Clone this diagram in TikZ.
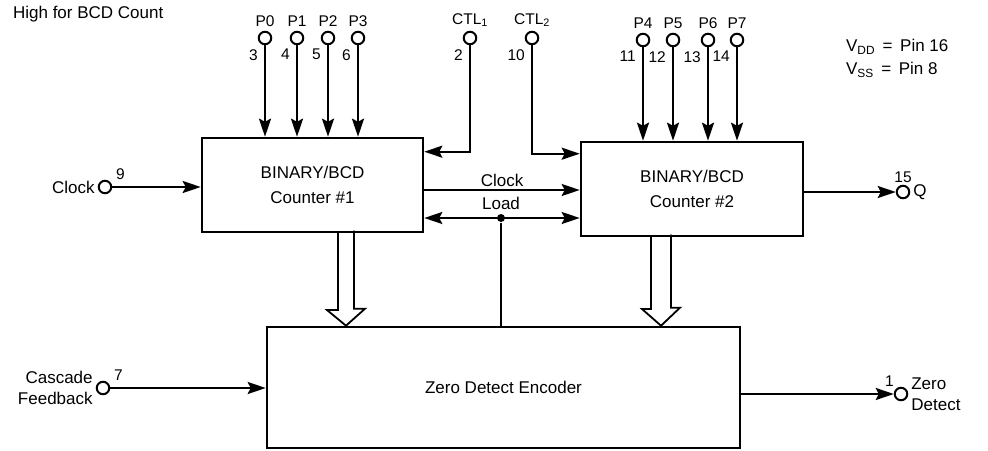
\documentclass[tikz,border=0pt]{standalone}
\usepackage{fontspec}
\setmainfont{Liberation Sans}
\usetikzlibrary{arrows.meta}
\newcommand{\txtfont}{\fontsize{17}{21}\selectfont}
\newcommand{\pinfont}{\fontsize{15.5}{18}\selectfont}
\tikzset{Pin/.style={circle, draw=black, fill=white, inner sep=0pt, minimum size=12.5pt, line width=2pt}}
\tikzset{Block/.style={draw=black, line width=2.6pt, align=center, font=\txtfont}}
\tikzset{Ptxt/.style={font=\txtfont, inner sep=2pt}, Plab/.style={font=\pinfont, inner sep=2pt, yshift=1pt}, Pnum/.style={font=\pinfont, inner sep=1pt}, Pnumd/.style={Pnum, yshift=-4pt}}

\begin{document}
\begin{tikzpicture}[x=1pt, y=-1pt, line width=2.2pt,
        sig/.style={-{Stealth[length=18pt,width=12pt,inset=3pt]}},
        sigboth/.style={{Stealth[length=18pt,width=12pt,inset=3pt]}-{Stealth[length=18pt,width=12pt,inset=3pt]}},
        bus/.style={line width=1.8pt},
        Dot/.style={circle, fill=black, inner sep=0pt, minimum size=8pt}]
        \useasboundingbox (0,0) rectangle (988,450);
        \node[Ptxt, anchor=west] (bcd) at (10,14) {High for BCD Count};
        \node[Ptxt, anchor=west] (vdd) at (843,47) {V\textsubscript{DD} \,=\, Pin 16};
        \node[Ptxt, anchor=west] (vss) at (843,70) {V\textsubscript{SS} \,=\, Pin 8};

        \node[Block, minimum width=221pt, minimum height=94pt] (cnt1) at (312.5,185) {BINARY/BCD\\[4pt]Counter \#1};
        \node[Block, minimum width=222pt, minimum height=94pt] (cnt2) at (692,189) {BINARY/BCD\\[4pt]Counter \#2};
        \node[Block, minimum width=473pt, minimum height=121pt] (zde) at (503.5,387.5) {Zero Detect Encoder};

        \node[Pin, label={[Plab]above:P0}, label={[Pnumd]below left:3}] (p0) at (265,38) {};
        \node[Pin, label={[Plab]above:P1}, label={[Pnumd]below left:4}] (p1) at (297,38) {};
        \node[Pin, label={[Plab]above:P2}, label={[Pnumd]below left:5}] (p2) at (328,38) {};
        \node[Pin, label={[Plab]above:P3}, label={[Pnumd]below left:6}] (p3) at (358,38) {};
        \node[Pin, label={[Plab]above:CTL\textsubscript{1}}, label={[Pnumd]below left:2}] (ctl1) at (470,38) {};
        \node[Pin, label={[Plab]above:CTL\textsubscript{2}}, label={[Pnumd]below left:10}] (ctl2) at (532,38) {};
        \node[Pin, label={[Plab]above:P4}, label={[Pnumd]below left:11}] (p4) at (643,40) {};
        \node[Pin, label={[Plab]above:P5}, label={[Pnumd]below left:12}] (p5) at (673,40) {};
        \node[Pin, label={[Plab]above:P6}, label={[Pnumd]below left:13}] (p6) at (708,40) {};
        \node[Pin, label={[Plab]above:P7}, label={[Pnumd]below left:14}] (p7) at (737,40) {};

        \node[Pin, label={[Ptxt]left:Clock}, label={[Pnum, xshift=4pt]above right:9}] (clk) at (105,187) {};
        \node[Pin, label={[Ptxt]right:Q}, label={[Pnum]above:15}] (q) at (903,192) {};
        \node[Pin, label={[Ptxt, align=right]left:Cascade\\Feedback}, label={[Pnum, xshift=4pt]above right:7}] (cf) at (103,388) {};
        \node[Pin, label={[Ptxt, align=left]right:Zero\\Detect}, label={[Pnum]above left:1}] (zd) at (901,394) {};
        \node[Dot, label={[Ptxt]above:Load}] (ld) at (501,218) {};

        \draw[sig] (p0) -- (p0 |- cnt1.north);
        \draw[sig] (p1) -- (p1 |- cnt1.north);
        \draw[sig] (p2) -- (p2 |- cnt1.north);
        \draw[sig] (p3) -- (p3 |- cnt1.north);
        \draw[sig] (p4) -- (p4 |- cnt2.north);
        \draw[sig] (p5) -- (p5 |- cnt2.north);
        \draw[sig] (p6) -- (p6 |- cnt2.north);
        \draw[sig] (p7) -- (p7 |- cnt2.north);
        \draw[sig] (ctl1) |- ([yshift=-15pt]cnt1.north east);
        \draw[sig] (ctl2) |- ([yshift=-13pt]cnt2.north west);

        \draw[sig] (clk) -- (clk -| cnt1.west);
        \draw[sig] ([yshift=-5pt]cnt1.east) -- ([yshift=-5pt]cnt1.east -| cnt2.west) node[Ptxt, midway, above] (clkm) {Clock};
        \draw[sigboth] (ld -| cnt1.east) -- (ld -| cnt2.west);
        \draw (ld) -- (ld |- zde.north);
        \draw[sig] (q -| cnt2.east) -- (q);
        \draw[sig] (cf) -- (cf -| zde.west);
        \draw[sig] (zd -| zde.east) -- (zd);

        \coordinate (bus1) at (346,232);
        \coordinate (bus2) at (661,236);
        \draw[bus] (bus1) ++(-8,0) -- ++(0,78) -- ++(-11,0) -- (bus1 |- zde.north) -- ++(19,-17) -- ++(-11,0) -- ++(0,-78);
        \draw[bus] (bus2) ++(-10,0) -- ++(0,73) -- ++(-9,0) -- (bus2 |- zde.north) -- ++(19,-18) -- ++(-9,0) -- ++(0,-73);
\end{tikzpicture}
\end{document}
